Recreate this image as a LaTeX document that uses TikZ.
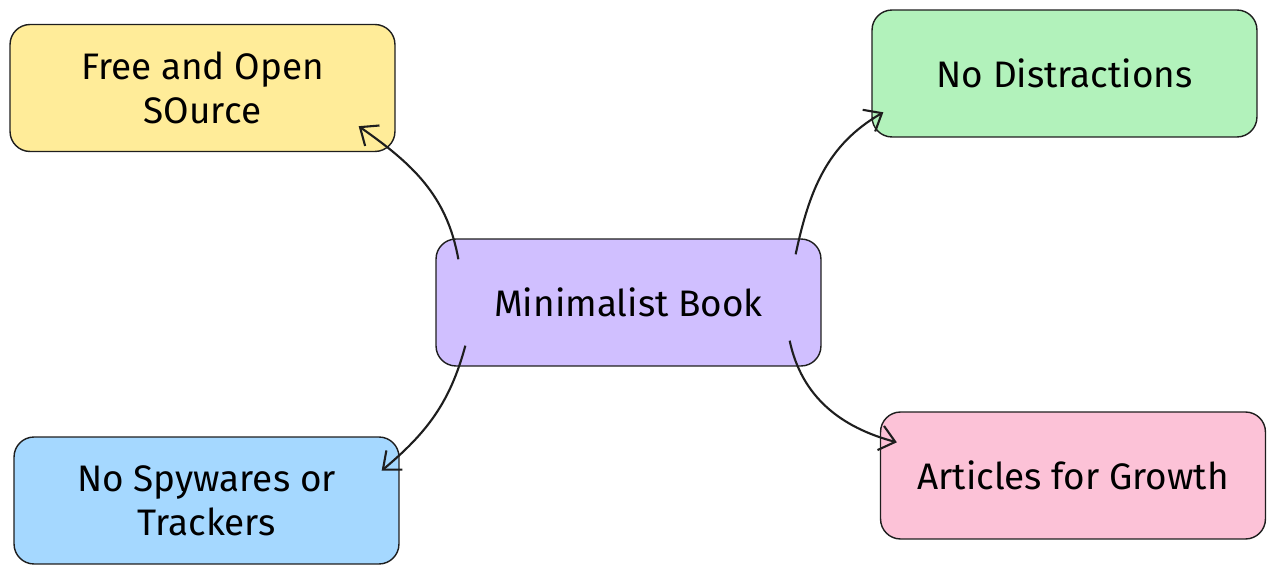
\documentclass[tikz,border=0pt]{standalone}
\usepackage{fontspec}
\setmainfont{Fira Sans}
\usepackage{tikz}
\usetikzlibrary{arrows.meta}
\definecolor{inkline}{HTML}{1E1E1E}
\definecolor{bookfill}{HTML}{D0BFFF}
\definecolor{freefill}{HTML}{FFEC99}
\definecolor{calmfill}{HTML}{B2F2BB}
\definecolor{spyfill}{HTML}{A5D8FF}
\definecolor{growfill}{HTML}{FCC2D7}
\tikzset{
    ideanode/.style = {
        align=center,
        inner sep=0pt,
        text centered,
        font=\fontsize{21}{25}\selectfont,
        rectangle,
        rounded corners=4mm,
        draw=inkline,
        line width=0.8pt,
        minimum width=7.7cm,
        minimum height=2.54cm
    },
    centernode/.style = {
        ideanode,
        fill=bookfill
    },
    link/.style = {
        draw=inkline,
        line width=1.2pt,
        -{Straight Barb[length=3mm,width=5mm]}
    }
}
\begin{document}
\begin{tikzpicture}[x=0.02cm,y=0.02cm]
            \useasboundingbox (0,0) rectangle (1276,-574);
            \node [centernode] (book) at (628.5,-302.5) {Minimalist Book};
            \node [ideanode, fill=freefill] (src) at (202.5,-88) {Free and Open\\SOurce};
            \node [ideanode, fill=calmfill] (calm) at (1064.5,-73.5) {No Distractions};
            \node [ideanode, fill=spyfill] (spy) at (206.5,-500.5) {No Spywares or\\Trackers};
            \node [ideanode, fill=growfill] (grow) at (1073,-475.5) {Articles for Growth};
            % arrow ends sit just inside the boxes
            \coordinate (b1) at ([shift={(23,-21)}]book.north west);
            \coordinate (b2) at ([shift={(-26,-16)}]book.north east);
            \coordinate (b3) at ([shift={(30,21)}]book.south west);
            \coordinate (b4) at ([shift={(-32,26)}]book.south east);
            \coordinate (s1) at ([shift={(-37,26)}]src.south east);
            \coordinate (c1) at ([shift={(12,-103)}]calm.north west);
            \coordinate (p1) at ([shift={(-18,94)}]spy.south east);
            \coordinate (g1) at ([shift={(17,-31)}]grow.north west);
            \draw [link] (b1) to[out=100, in=-35] (s1);
            \draw [link] (b2) to[out=78, in=210] (c1);
            \draw [link] (b3) to[out=-105, in=40] (p1);
            \draw [link] (b4) to[out=-78, in=165] (g1);
        \end{tikzpicture}
\end{document}
